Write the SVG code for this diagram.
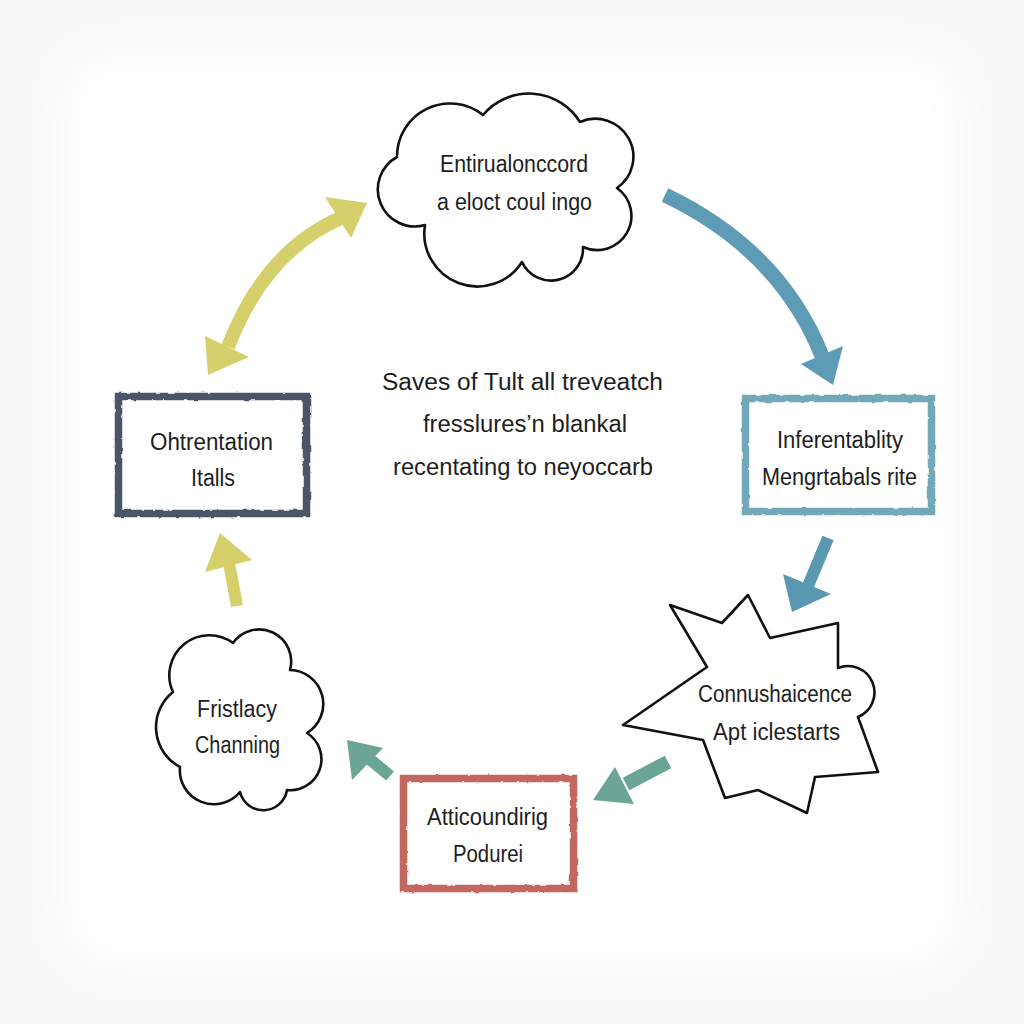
<svg xmlns="http://www.w3.org/2000/svg" width="1024" height="1024" viewBox="0 0 1024 1024">
  <defs>
    <filter id="soft" x="-10%" y="-10%" width="120%" height="120%">
      <feGaussianBlur stdDeviation="22"/>
    </filter>
    <filter id="rough" x="-5%" y="-5%" width="110%" height="110%">
      <feTurbulence type="fractalNoise" baseFrequency="0.12" numOctaves="2" seed="4" result="n"/>
      <feDisplacementMap in="SourceGraphic" in2="n" scale="3" xChannelSelector="R" yChannelSelector="G"/>
    </filter>
    <style>
      .lbl { font-family: "Liberation Sans", Arial, sans-serif; font-size: 23.5px; fill: #1e1e1e; text-anchor: middle; }
      .outline { fill: #fff; stroke: #111; stroke-width: 2.6; stroke-linejoin: round; }
      .box { fill: #fff; stroke-width: 7.5; filter: url(#rough); }
      .shaft { fill: none; stroke-linecap: butt; }
    </style>
  </defs>

  <rect x="0" y="0" width="1024" height="1024" fill="#f8f8f5"/>
  <rect x="60" y="50" width="904" height="920" rx="50" fill="#ffffff" filter="url(#soft)"/>

  <g id="connectors">
    <g id="arrow-yellow-double" fill="#d5cf6c">
      <path class="shaft" d="M343,217 Q265,250 228,347" stroke="#d5cf6c" stroke-width="14"/>
      <polygon points="367,203 325,197 351,238"/>
      <polygon points="208,375 205,336 249,357"/>
    </g>
    <g id="arrow-blue-curve" fill="#5e9bb4">
      <path class="shaft" d="M665,195 Q780,250 822,356" stroke="#5e9bb4" stroke-width="15"/>
      <polygon points="833,385 801,364 843,346"/>
    </g>
    <g id="arrow-blue-small" fill="#5a97b1">
      <path class="shaft" d="M828,538 L808,586" stroke="#5a97b1" stroke-width="12"/>
      <polygon points="792,612 783,574 831,594"/>
    </g>
    <g id="arrow-green-right" fill="#6aa596">
      <path class="shaft" d="M668,762 L626,784" stroke="#6aa596" stroke-width="14"/>
      <polygon points="593,800 615,767 634,804"/>
    </g>
    <g id="arrow-green-left" fill="#6aa596">
      <path class="shaft" d="M390,776 L366,756" stroke="#6aa596" stroke-width="12"/>
      <polygon points="347,740 352,780 383,748"/>
    </g>
    <g id="arrow-yellow-up" fill="#d5cf6c">
      <path class="shaft" d="M237,606 L229,563" stroke="#d5cf6c" stroke-width="12"/>
      <polygon points="220,533 205,572 252,560"/>
    </g>
  </g>

  <g id="node-top-cloud">
    <path class="outline" d="M397,157 A53,53 0 0 1 483,115 A60,60 0 0 1 580,122 A38,38 0 0 1 617,188 A34.2,34.2 0 0 1 583,247 A32,32 0 0 1 522,262 A53,53 0 0 1 425,225 A37,37 0 0 1 397,157 Z"/>
    <text class="lbl" x="514" y="172" textLength="148" lengthAdjust="spacingAndGlyphs">Entirualonccord</text>
    <text class="lbl" x="514.5" y="210" textLength="155" lengthAdjust="spacingAndGlyphs">a eloct coul ingo</text>
  </g>

  <g id="node-center-text">
    <text class="lbl" x="522.5" y="390" textLength="281" lengthAdjust="spacingAndGlyphs">Saves of Tult all treveatch</text>
    <text class="lbl" x="525" y="432" textLength="204" lengthAdjust="spacingAndGlyphs">fresslures’n blankal</text>
    <text class="lbl" x="523" y="475" textLength="260" lengthAdjust="spacingAndGlyphs">recentating to neyoccarb</text>
  </g>

  <g id="node-left-box">
    <rect class="box" x="118.5" y="396.5" width="188" height="117" stroke="#4a5568"/>
    <text class="lbl" x="211.5" y="450" textLength="123" lengthAdjust="spacingAndGlyphs">Ohtrentation</text>
    <text class="lbl" x="213" y="486" textLength="44" lengthAdjust="spacingAndGlyphs">Italls</text>
  </g>

  <g id="node-right-box">
    <rect class="box" x="745.5" y="398.5" width="186" height="113" stroke="#72a9b8"/>
    <text class="lbl" x="840" y="448" textLength="126" lengthAdjust="spacingAndGlyphs">Inferentablity</text>
    <text class="lbl" x="839.5" y="485" textLength="155" lengthAdjust="spacingAndGlyphs">Mengrtabals rite</text>
  </g>

  <g id="node-star">
    <path class="outline" d="M670,605 L722,623 L748,595 L770,638 L838,623 L838,668 A26,26 0 0 1 858,717 L878,772 L815,777 L807,813 L758,790 L725,798 L703,740 L623,725 L707,667 Z"/>
    <text class="lbl" x="775" y="702" textLength="154" lengthAdjust="spacingAndGlyphs">Connushaicence</text>
    <text class="lbl" x="776.5" y="740" textLength="127" lengthAdjust="spacingAndGlyphs">Apt iclestarts</text>
  </g>

  <g id="node-bottom-box">
    <rect class="box" x="403.5" y="778.5" width="170" height="110" stroke="#c4675f"/>
    <text class="lbl" x="487.5" y="825" textLength="121" lengthAdjust="spacingAndGlyphs">Atticoundirig</text>
    <text class="lbl" x="488" y="862" textLength="70" lengthAdjust="spacingAndGlyphs">Podurei</text>
  </g>

  <g id="node-left-cloud">
    <path class="outline" d="M173,692 A40,40 0 0 1 233,643 A32,32 0 0 1 290,670 A34,34 0 0 1 307,733 A31,31 0 0 1 287,790 A24,24 0 0 1 240,792 A34,34 0 0 1 180,767 A45,45 0 0 1 173,692 Z"/>
    <text class="lbl" x="237" y="717" textLength="80" lengthAdjust="spacingAndGlyphs">Fristlacy</text>
    <text class="lbl" x="237.5" y="753" textLength="85" lengthAdjust="spacingAndGlyphs">Channing</text>
  </g>
</svg>
